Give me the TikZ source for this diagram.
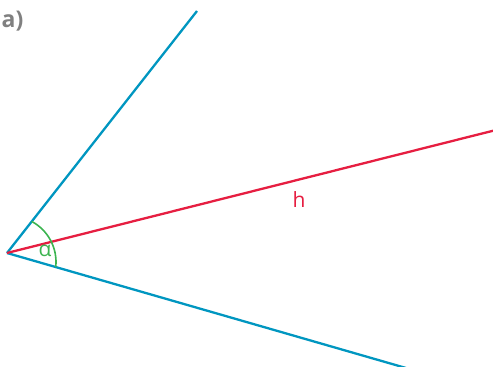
\documentclass[tikz,border=0pt]{standalone}
\usepackage{fontspec}
\setmainfont{Open Sans}
\definecolor{rayblue}{RGB}{0,150,192}
\definecolor{rayred}{RGB}{230,30,65}
\definecolor{anggreen}{RGB}{60,180,80}
\definecolor{labgray}{RGB}{128,128,128}
\tikzset{
  ray/.style={line width=2.3pt, rayblue},
  hray/.style={line width=2.3pt, rayred},
  angarc/.style={line width=1.6pt, anggreen},
  lab/.style={inner sep=0pt, font=\fontsize{21}{21}\selectfont}
}
\begin{document}
\begin{tikzpicture}[x=1pt,y=-1pt]
\useasboundingbox (0,0) rectangle (493,367);
\coordinate (V) at (7,253);
\coordinate (U) at (197,11);
\coordinate (R) at (494,130.5);
\coordinate (L) at (406,368);
\coordinate (C) at (10,262);
\draw[ray] (V) -- (U);
\draw[ray] (V) -- (L);
\draw[hray] (V) -- (R);
\draw[angarc] (C) ++(-61.9:46) arc[start angle=-61.9, end angle=6.1, radius=46];
\node[lab, text=labgray, font=\fontsize{23}{23}\selectfont\bfseries] (a) at (12.5,21) {a)};
\node[lab, text=rayred] (h) at (299,200) {h};
\node[lab, text=anggreen] (al) at (45,251) {α};
\end{tikzpicture}
\end{document}
